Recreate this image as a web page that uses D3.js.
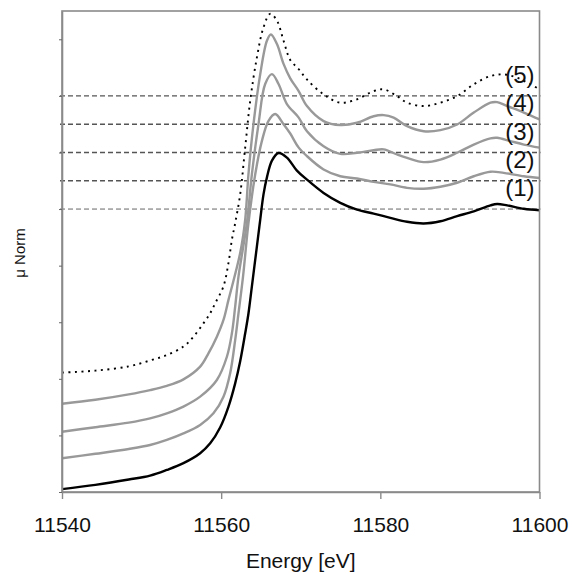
<!DOCTYPE html>
<head>
    <script src="https://d3js.org/d3.v7.min.js"></script>
</head>
<style>
body {
    margin: 0;
    background: #fff;
    font-family: Arial, "Liberation Sans", Helvetica, sans-serif;
}
</style>
<body>
<svg></svg>
<script>

    // Data: energy [eV] and normalised absorption
    var spec1 = [[11540,0.010],[11544.19,0.025],[11548.39,0.044],[11551.07,0.058],[11553.17,0.078],[11555.26,0.102],
        [11557.36,0.137],[11558.62,0.172],[11559.87,0.228],[11560.92,0.302],[11561.76,0.384],[11562.39,0.462],
        [11563.02,0.561],[11563.43,0.631],[11563.86,0.727],[11564.49,0.868],
        [11564.91,0.963],[11565.32,1.052],[11565.75,1.112],[11566.38,1.171],[11567.21,1.198],[11568.26,1.182],
        [11569.52,1.136],[11570.78,1.104],[11572.87,1.057],[11574.97,1.022],[11577.07,0.998],[11579.16,0.984],
        [11581.26,0.969],[11583.36,0.955],[11585.45,0.949],[11587.55,0.957],[11589.65,0.975],[11591.74,0.992],
        [11593.84,1.013],[11594.68,1.018],[11595.94,1.013],[11598.03,1.001],[11600,0.996]];

    var spec2 = [[11540,0.119],[11544.19,0.135],[11548.39,0.152],[11551.07,0.166],[11553.17,0.184],[11555.26,0.207],
        [11557.36,0.237],[11559.03,0.278],[11560.29,0.337],[11561.13,0.420],[11561.76,0.537],[11562.18,0.632],
        [11562.75,0.762],[11563.43,0.95],[11564.28,1.123],[11565.12,1.241],
        [11565.95,1.312],[11566.79,1.336],[11567.84,1.300],[11568.68,1.267],[11569.72,1.218],[11570.78,1.187],
        [11572.87,1.140],[11574.97,1.116],[11577.07,1.108],[11579.16,1.096],[11581.26,1.087],[11583.36,1.075],
        [11585.45,1.072],[11587.55,1.079],[11589.65,1.093],[11591.74,1.116],[11593.84,1.132],[11595.51,1.128],
        [11598.03,1.116],[11600,1.110]];

    var spec3 = [[11540,0.213],[11544.19,0.229],[11548.39,0.245],[11551.07,0.260],[11553.17,0.278],[11555.26,0.302],
        [11557.36,0.337],[11559.46,0.396],[11560.72,0.478],[11561.35,0.561],[11561.76,0.655],[11562.18,0.762],
        [11563.23,0.95],[11563.86,1.123],[11564.69,1.300],
        [11565.53,1.442],[11566.38,1.477],[11567.21,1.442],[11568.26,1.371],[11569.72,1.324],[11570.78,1.275],
        [11572.87,1.222],[11574.97,1.195],[11577.07,1.199],[11579.16,1.208],[11580.42,1.211],[11582.10,1.193],
        [11583.36,1.181],[11585.45,1.166],[11587.55,1.175],[11589.65,1.199],[11591.74,1.228],[11593.84,1.250],
        [11594.68,1.252],[11596.35,1.240],[11598.03,1.228],[11600,1.217]];

    var spec4 = [[11540,0.312],[11544.19,0.326],[11548.39,0.345],[11551.07,0.360],[11553.17,0.375],[11555.26,0.398],
        [11557.36,0.443],[11558.40,0.490],[11559.46,0.549],[11560.29,0.608],[11560.92,0.679],
        [11562.39,0.845],[11563.02,0.963],[11563.43,1.123],[11564.06,1.300],
        [11564.91,1.477],[11565.75,1.595],[11566.25,1.617],[11567.01,1.583],[11567.84,1.513],[11568.68,1.462],
        [11569.72,1.418],[11570.78,1.364],[11572.87,1.311],[11574.97,1.297],[11577.07,1.305],[11579.16,1.328],
        [11580.42,1.332],[11581.67,1.323],[11583.36,1.293],[11585.45,1.275],[11587.55,1.279],[11589.65,1.299],
        [11591.74,1.341],[11593.84,1.376],[11594.68,1.378],[11595.94,1.364],[11598.03,1.341],[11600,1.317]];

    var spec5 = [[11540,0.422],[11544.19,0.429],[11548.39,0.444],[11551.07,0.465],[11553.17,0.484],[11555.26,0.514],
        [11556.52,0.549],[11557.77,0.596],[11558.62,0.632],[11559.25,0.667],[11560.29,0.727],[11560.92,0.810],[11561.35,0.892],[11561.76,0.95],
        [11562.39,1.052],[11563.02,1.218],[11563.65,1.383],[11564.49,1.536],[11565.32,1.642],[11566.16,1.690],
        [11567.01,1.666],[11567.84,1.595],[11568.68,1.527],[11569.72,1.495],[11570.78,1.458],[11572.87,1.405],
        [11574.97,1.376],[11577.07,1.388],[11579.16,1.417],[11580.42,1.423],[11582.10,1.399],[11583.36,1.376],
        [11585.45,1.364],[11587.55,1.376],[11589.65,1.399],[11591.74,1.441],[11593.84,1.470],[11595.51,1.476],
        [11597.19,1.464],[11598.87,1.441],[11600,1.423]];

    var labels = ["(1)", "(2)", "(3)", "(4)", "(5)"];
    var levels = [1.0, 1.1, 1.2, 1.3, 1.4];   // dashed reference levels
    var xTicks = [11540, 11560, 11580, 11600];
    var yTicks = [0, 0.2, 0.4, 0.6, 0.8, 1.0, 1.2, 1.4, 1.6];

    // Variables
    var width = 572;
    var height = 573;
    var margin = {top: 11, right: 32.5, bottom: 81, left: 62};

    var svg = d3.select('svg')
        .attr('width', width)
        .attr('height', height);

    var x = d3.scaleLinear().domain([11540, 11600]).range([margin.left, width - margin.right]);
    var y = d3.scaleLinear().domain([0, 1.7]).range([height - margin.bottom, margin.top]);

    var axisColor = '#8a8a8a';

    svg.append('clipPath').attr('id', 'plotClip')
        .append('rect')
        .attr('x', x.range()[0]).attr('y', y.range()[1])
        .attr('width', x.range()[1] - x.range()[0])
        .attr('height', y.range()[0] - y.range()[1]);

    // dashed reference lines
    svg.selectAll('line.level').data(levels).enter().append('line')
        .attr('class', 'level')
        .attr('x1', x(11540) - 2).attr('x2', x(11600) + 1)
        .attr('y1', function (d) { return y(d); })
        .attr('y2', function (d) { return y(d); })
        .style('stroke', function (d, i) { return i === 0 ? '#666' : '#555'; })
        .style('stroke-width', function (d, i) { return i === 0 ? 1 : 1.4; })
        .style('stroke-dasharray', '5,3');

    // spectra
    var series = [spec1, spec2, spec3, spec4, spec5];
    var styles = [
        {stroke: '#000', width: 2.4, dash: null},
        {stroke: '#999', width: 2.4, dash: null},
        {stroke: '#999', width: 2.4, dash: null},
        {stroke: '#999', width: 2.4, dash: null},
        {stroke: '#000', width: 1.9, dash: '2,4.5'}
    ];

    var line = d3.line()
        .x(function (d) { return x(d[0]); })
        .y(function (d) { return y(d[1]); })
        .curve(d3.curveCatmullRom.alpha(0.5));

    svg.append('g').attr('clip-path', 'url(#plotClip)')
        .selectAll('path').data(series).enter().append('path')
        .attr('d', line)
        .style('fill', 'none')
        .style('stroke', function (d, i) { return styles[i].stroke; })
        .style('stroke-width', function (d, i) { return styles[i].width; })
        .style('stroke-dasharray', function (d, i) { return styles[i].dash; })
        .style('stroke-linejoin', 'round');

    // frame
    svg.append('rect')
        .attr('x', x.range()[0]).attr('y', y.range()[1])
        .attr('width', x.range()[1] - x.range()[0])
        .attr('height', y.range()[0] - y.range()[1])
        .style('fill', 'none')
        .style('stroke', axisColor)
        .style('stroke-width', 1.6);

    // x axis
    var gx = svg.append('g')
        .attr('transform', 'translate(0,' + y.range()[0] + ')')
        .call(d3.axisBottom(x).tickValues(xTicks).tickFormat(d3.format('d')).tickSize(7).tickPadding(18).tickSizeOuter(0));
    gx.select('.domain').style('stroke', axisColor).style('stroke-width', 1.6);
    gx.selectAll('.tick line').style('stroke', axisColor).style('stroke-width', 1.4);
    gx.selectAll('text')
        .style('font-family', 'Arial, "Liberation Sans", sans-serif')
        .style('font-size', '21px')
        .style('fill', '#111');

    // y axis (ticks only)
    var gy = svg.append('g')
        .attr('transform', 'translate(' + x.range()[0] + ',0)')
        .call(d3.axisLeft(y).tickValues(yTicks).tickFormat('').tickSize(3).tickSizeOuter(0));
    gy.select('.domain').style('stroke', axisColor).style('stroke-width', 1.6);
    gy.selectAll('.tick line').style('stroke', '#666').style('stroke-width', 1);

    // axis titles
    svg.append('text')
        .attr('x', (x.range()[0] + x.range()[1]) / 2)
        .attr('y', 568)
        .attr('text-anchor', 'middle')
        .style('font-size', '21px')
        .style('fill', '#111')
        .text('Energy [eV]');

    svg.append('text')
        .attr('transform', 'translate(25,253)rotate(-90)')
        .attr('text-anchor', 'middle')
        .style('font-size', '15px')
        .style('fill', '#111')
        .text('\u03bc Norm');

    // spectrum labels
    svg.selectAll('text.lab').data(labels).enter().append('text')
        .attr('class', 'lab')
        .attr('x', x(11595.7))
        .attr('y', function (d, i) { return y(levels[i] + 0.045); })
        .style('font-size', '24px')
        .style('fill', '#111')
        .text(function (d) { return d; });

</script>
</body>
